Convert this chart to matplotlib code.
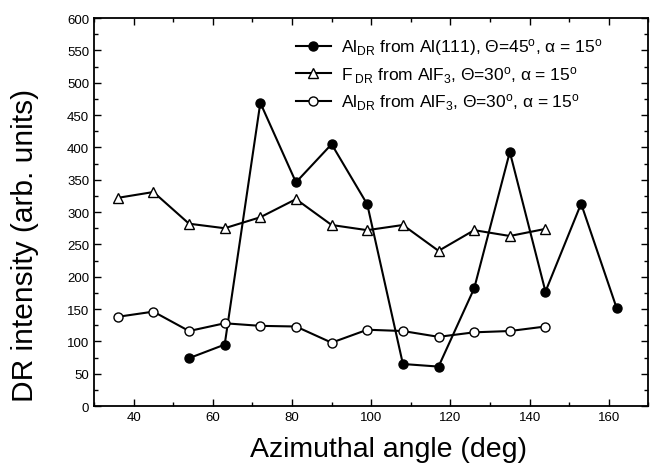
import numpy as np
import matplotlib
matplotlib.use('Agg')
import matplotlib.pyplot as plt
from matplotlib.ticker import MultipleLocator

plt.rcParams['font.family'] = ['Liberation Sans', 'DejaVu Sans']
plt.rcParams['mathtext.default'] = 'regular'

# azimuthal angles (deg)
angle_al111 = [54, 63, 72, 81, 90, 99, 108, 117, 126, 135, 144, 153, 162]
angle_alf3 = [36, 45, 54, 63, 72, 81, 90, 99, 108, 117, 126, 135, 144]

# DR intensities (arb. units)
al_from_al111 = [74, 95, 469, 346, 405, 312, 65, 61, 182, 393, 177, 313, 151]
f_from_alf3 = [322, 331, 282, 275, 292, 320, 280, 272, 280, 240, 272, 263, 274]
al_from_alf3 = [138, 146, 116, 128, 124, 123, 98, 118, 116, 107, 114, 116, 123]

labels = [
    r'Al$_{DR}$ from Al(111), Θ=45$^{o}$, α = 15$^{o}$',
    r'F$\,_{DR}$ from AlF$_{3}$, Θ=30$^{o}$, α = 15$^{o}$',
    r'Al$_{DR}$ from AlF$_{3}$, Θ=30$^{o}$, α = 15$^{o}$',
]

fig = plt.figure(figsize=(6.5, 4.64), dpi=100)
ax = fig.add_axes([0.1446, 0.1228, 0.853, 0.836])

ax.plot(angle_al111, al_from_al111, '-o', color='black', mfc='black',
        ms=6.5, lw=1.5, label=labels[0])
ax.plot(angle_alf3, f_from_alf3, '-^', color='black', mfc='white',
        ms=7, lw=1.5, label=labels[1])
ax.plot(angle_alf3, al_from_alf3, '-o', color='black', mfc='white',
        ms=6.5, lw=1.5, label=labels[2])

ax.set_xlim(30, 170)
ax.set_ylim(0, 600)
ax.xaxis.set_major_locator(MultipleLocator(20))
ax.xaxis.set_minor_locator(MultipleLocator(10))
ax.yaxis.set_major_locator(MultipleLocator(50))
ax.yaxis.set_minor_locator(MultipleLocator(25))
ax.tick_params(which='both', direction='in', top=True, right=True,
               labelsize=9.5, width=1)
ax.tick_params(which='major', length=5)
ax.tick_params(which='minor', length=3)
for s in ax.spines.values():
    s.set_linewidth(1.3)

ax.set_xlabel('Azimuthal angle (deg)', fontsize=20.5)
ax.set_ylabel('DR intensity (arb. units)', fontsize=21.5)
ax.xaxis.set_label_coords(0.531, -0.078)
ax.yaxis.set_label_coords(-0.1, 0.4175)

ax.legend(loc='upper right', bbox_to_anchor=(0.945, 0.993), frameon=False,
          fontsize=12.5, handlelength=2.0, handletextpad=0.6, labelspacing=0.38)

fig.savefig('out.png', dpi=100)
